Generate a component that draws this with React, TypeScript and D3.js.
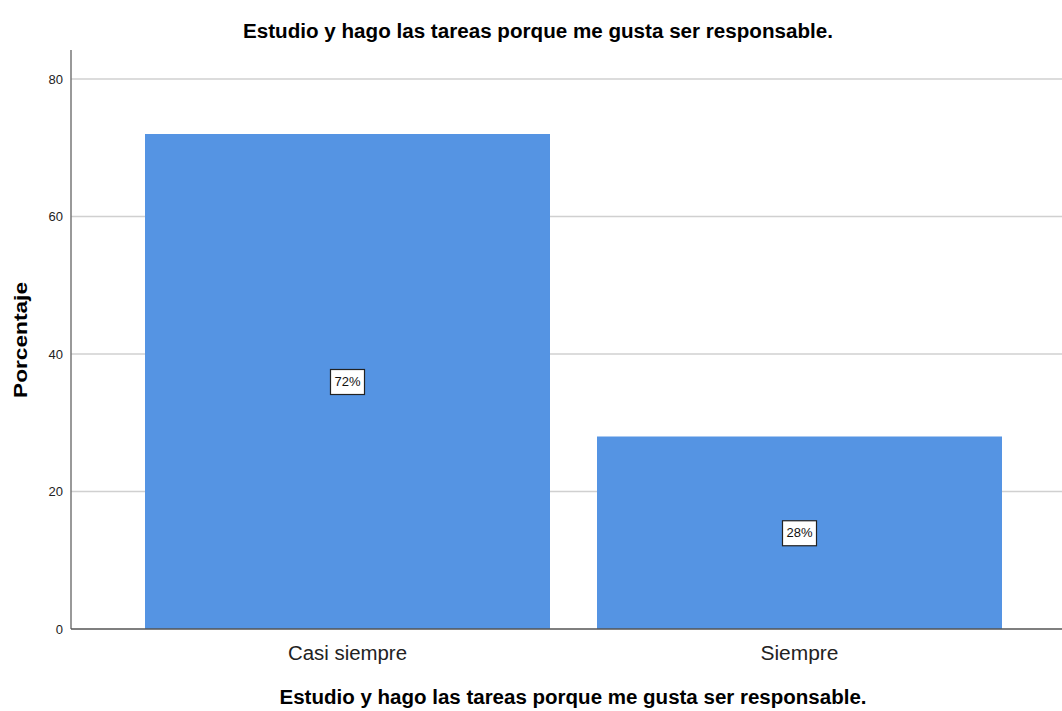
import React from "react";
import * as d3 from "d3";

const categories = ["Casi siempre", "Siempre"];
const values = [72, 28];
const barLabels = ["72%", "28%"];
const yTicks = [0, 20, 40, 60, 80];
const title = "Estudio y hago las tareas porque me gusta ser responsable.";
const xTitle = "Estudio y hago las tareas porque me gusta ser responsable.";
const yTitle = "Porcentaje";

const W = 1062;
const H = 711;
const axisX = 71;
const zeroY = 629;
const topY = 50;
const FONT = "'Liberation Sans', Arial, sans-serif";

export default function App() {
  const y = d3.scaleLinear().domain([0, 80]).range([zeroY, 79]);
  const x = d3
    .scaleBand<string>()
    .domain(categories)
    .range([121.5, 1025.5])
    .paddingInner(0.104)
    .paddingOuter(0.052);

  const catLens = [119, 78];

  return (
    <svg
      width={W}
      height={H}
      style={{ position: "absolute", left: 0, top: 0, background: "#fff" }}
      fontFamily={FONT}
    >
      {yTicks.map((t) => (
        <g key={t}>
          {t !== 0 && (
            <line x1={axisX} x2={W} y1={y(t)} y2={y(t)} stroke="#d0d0d0" strokeWidth={1.5} />
          )}
          <text x={63} y={y(t)} dy="0.36em" textAnchor="end" fontSize={13} fill="#222">
            {t}
          </text>
        </g>
      ))}
      {categories.map((c, i) => (
        <rect
          key={c}
          x={x(c)}
          y={y(values[i])}
          width={x.bandwidth()}
          height={zeroY - y(values[i])}
          fill="#5594e3"
        />
      ))}
      <line x1={axisX} x2={axisX} y1={topY} y2={zeroY} stroke="#777" strokeWidth={1.5} />
      <line x1={axisX} x2={W} y1={zeroY} y2={zeroY} stroke="#555" strokeWidth={1.5} />
      {categories.map((c, i) => {
        const cx = (x(c) as number) + x.bandwidth() / 2;
        const cy = y(values[i] / 2);
        return (
          <g key={c + "lab"}>
            <rect x={cx - 17} y={cy - 12} width={34} height={25} fill="#fff" stroke="#222" strokeWidth={1.2} />
            <text x={cx} y={cy} dy="0.36em" textAnchor="middle" fontSize={13} fill="#111">
              {barLabels[i]}
            </text>
            <text
              x={cx}
              y={653}
              dy="0.36em"
              textAnchor="middle"
              fontSize={20}
              fill="#222"
              textLength={catLens[i]}
              lengthAdjust="spacingAndGlyphs"
            >
              {c}
            </text>
          </g>
        );
      })}
      <text
        x={538}
        y={31}
        dy="0.36em"
        textAnchor="middle"
        fontSize={20}
        fontWeight="bold"
        fill="#000"
        textLength={590}
        lengthAdjust="spacingAndGlyphs"
      >
        {title}
      </text>
      <text
        x={573}
        y={697}
        dy="0.36em"
        textAnchor="middle"
        fontSize={20}
        fontWeight="bold"
        fill="#000"
        textLength={587}
        lengthAdjust="spacingAndGlyphs"
      >
        {xTitle}
      </text>
      <text
        transform={`translate(20,${340}) rotate(-90)`}
        dy="0.36em"
        textAnchor="middle"
        fontSize={19}
        fontWeight="bold"
        fill="#000"
        textLength={116}
        lengthAdjust="spacingAndGlyphs"
      >
        {yTitle}
      </text>
    </svg>
  );
}
